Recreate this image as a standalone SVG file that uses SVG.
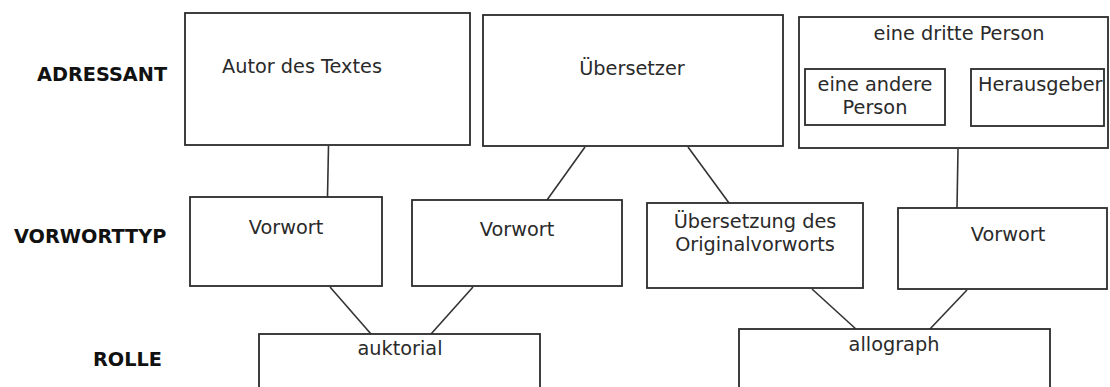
<svg xmlns="http://www.w3.org/2000/svg" width="1110" height="387" viewBox="0 0 1110 387">
<style>
.bg{fill:#ffffff}
.box{fill:#ffffff;stroke:#2b2b2b;stroke-width:1.8}
.t{font-family:"DejaVu Sans","Verdana",sans-serif;font-size:19.3px;fill:#2a2a2a}
.m{text-anchor:middle}
.lbl{font-family:"DejaVu Sans","Verdana",sans-serif;font-size:19.3px;font-weight:bold;fill:#111111}
.c{stroke:#333333;stroke-width:1.6;fill:none}
</style>
<rect class="bg" x="0" y="0" width="1110" height="387"/>
<g id="row-labels">
<text class="lbl" x="37" y="81">ADRESSANT</text>
<text class="lbl" x="14" y="243">VORWORTTYP</text>
<text class="lbl" x="93" y="366">ROLLE</text>
</g>
<g id="connectors">
<line class="c" x1="328.5" y1="146" x2="327.5" y2="197"/>
<line class="c" x1="585" y1="147" x2="547" y2="200"/>
<line class="c" x1="688" y1="147" x2="729" y2="203"/>
<line class="c" x1="958" y1="149" x2="957" y2="208"/>
<line class="c" x1="934" y1="50" x2="906" y2="69"/>
<line class="c" x1="979" y1="50" x2="998" y2="69"/>
<line class="c" x1="330" y1="287" x2="371" y2="334"/>
<line class="c" x1="473" y1="287" x2="431" y2="334"/>
<line class="c" x1="812" y1="289" x2="857" y2="330"/>
<line class="c" x1="967" y1="290" x2="929" y2="330"/>
</g>
<g id="autor">
<rect class="box" x="185" y="13" width="285" height="132"/>
<text class="t" x="222" y="73">Autor des Textes</text>
</g>
<g id="uebersetzer">
<rect class="box" x="483" y="15" width="300" height="131"/>
<text class="t m" x="632" y="75">Übersetzer</text>
</g>
<g id="dritte-person">
<rect class="box" x="799" y="17" width="309" height="131"/>
<text class="t m" x="959" y="40">eine dritte Person</text>
</g>
<g id="andere-person">
<rect class="box" x="805" y="69" width="140" height="56"/>
<text class="t m" x="875" y="91">eine andere</text>
<text class="t m" x="875" y="114">Person</text>
</g>
<g id="herausgeber">
<rect class="box" x="971" y="69" width="133" height="57"/>
<text class="t" x="978" y="91">Herausgeber</text>
</g>
<g id="vorwort-1">
<rect class="box" x="190" y="197" width="192" height="89"/>
<text class="t m" x="286" y="234">Vorwort</text>
</g>
<g id="vorwort-2">
<rect class="box" x="412" y="200" width="210" height="86"/>
<text class="t m" x="517" y="236">Vorwort</text>
</g>
<g id="uebersetzung-original">
<rect class="box" x="647" y="203" width="216" height="85"/>
<text class="t m" x="755" y="228">Übersetzung des</text>
<text class="t m" x="755" y="251">Originalvorworts</text>
</g>
<g id="vorwort-3">
<rect class="box" x="898" y="208" width="209" height="81"/>
<text class="t m" x="1008" y="241">Vorwort</text>
</g>
<g id="auktorial">
<rect class="box" x="259" y="334" width="281" height="70"/>
<text class="t m" x="400" y="355">auktorial</text>
</g>
<g id="allograph">
<rect class="box" x="739" y="329" width="311" height="75"/>
<text class="t m" x="894" y="351">allograph</text>
</g>
</svg>
